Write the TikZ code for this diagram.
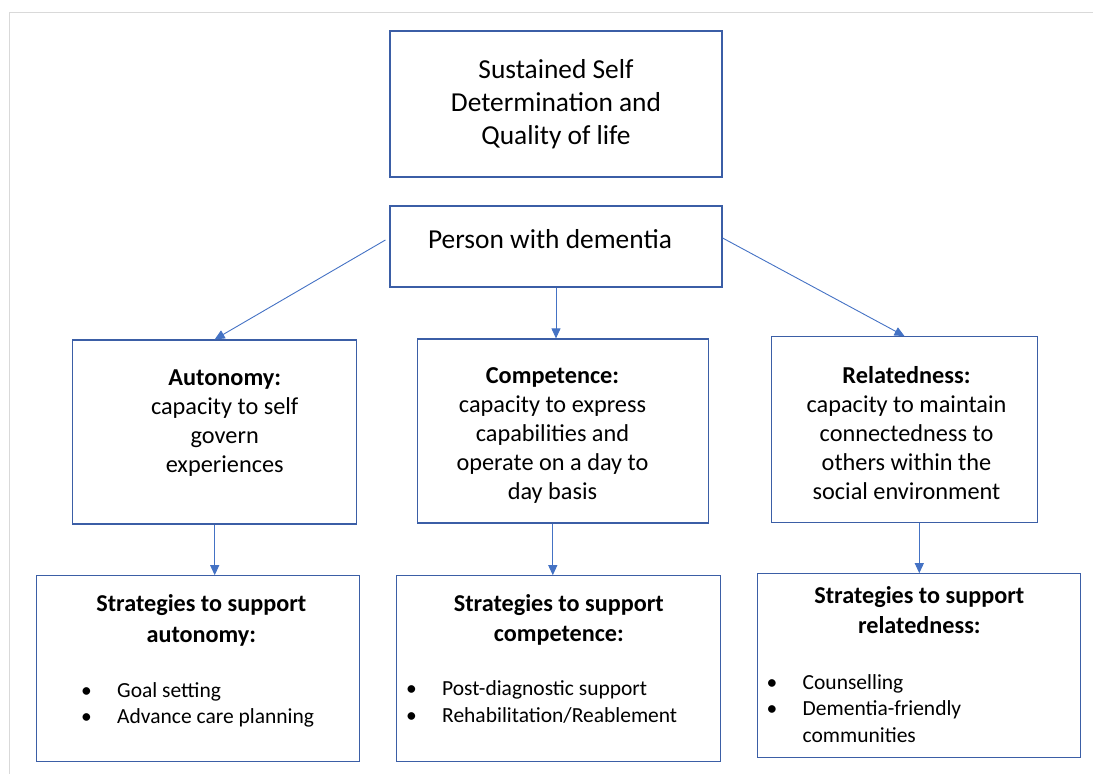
\documentclass[tikz,border=0pt]{standalone}
\usepackage{fontspec}
\setmainfont{Carlito}
\usetikzlibrary{positioning,arrows.meta}
\definecolor{boxblue}{HTML}{3B5EA6}
\definecolor{linkblue}{HTML}{4472C4}
\definecolor{framegray}{HTML}{D9D9D9}

\begin{document}
\begin{tikzpicture}[
    x=1pt, y=-1pt,
    box/.style={draw=boxblue, line width=1.2pt, inner sep=0pt},
    arrow/.style={-{Triangle[length=10pt,width=9pt]}, color=linkblue, line width=0.9pt},
    bigtext/.style={font=\fontsize{27.4}{33}\selectfont, align=center, inner sep=0pt},
    midtext/.style={font=\fontsize{24.3}{29}\selectfont, align=center, inner sep=0pt},
    headtext/.style={font=\fontsize{24.2}{30.5}\selectfont\bfseries, align=center, inner sep=0pt},
    listtext/.style={font=\fontsize{21.5}{26.5}\selectfont, inner sep=0pt},
]
\useasboundingbox (0,0) rectangle (1093,774);
\draw[framegray, line width=1pt] (9.5,774) -- (9.5,12.5) -- (1093,12.5);

% outcome and person
\node[box, bigtext, minimum width=332pt, minimum height=146pt] (goal) at (556,104) {Sustained Self\\Determination and\\Quality of life};
\node[box, minimum width=332pt, minimum height=81pt] (person) at (556,246.5) {};
\node[bigtext] (persontext) at ([xshift=-6pt,yshift=7.5pt]person.center) {Person with dementia};

% the three needs
\node[box, minimum width=284pt, minimum height=184pt] (autonomy) at (214.7,432) {};
\node[box, minimum width=291pt, minimum height=184pt] (competence) at (563,431) {};
\node[box, minimum width=266pt, minimum height=186pt] (relatedness) at (904.5,429.7) {};
\node[midtext, below=30.5pt of autonomy.north, xshift=10pt] (autonomytext) {\textbf{Autonomy:}\\capacity to self\\govern\\experiences};
\node[midtext, below=29.3pt of competence.north, xshift=-10.5pt] (competencetext) {\textbf{Competence:}\\capacity to express\\capabilities and\\operate on a day to\\day basis};
\node[midtext, below=29.8pt of relatedness.north, xshift=2pt] (relatednesstext) {\textbf{Relatedness:}\\capacity to maintain\\connectedness to\\others within the\\social environment};

% strategies
\node[box, minimum width=323pt, minimum height=186pt] (sautonomy) at (198.3,668.8) {};
\node[box, minimum width=324pt, minimum height=186pt] (scompetence) at (558.8,668.8) {};
\node[box, minimum width=323pt, minimum height=184pt] (srelatedness) at (919.3,665.8) {};
\node[headtext, below=19.4pt of sautonomy.north, xshift=3pt] (sautonomyhead) {Strategies to support\\autonomy:};
\node[headtext, below=19pt of scompetence.north] (scompetencehead) {Strategies to support\\competence:};
\node[headtext, below=12.7pt of srelatedness.north] (srelatednesshead) {Strategies to support\\relatedness:};
\node[listtext, below right=103.5pt and 44.8pt of sautonomy.north west] (sautonomylist) {\begin{tabular}{@{}p{36pt}@{}l@{}}\textbullet & Goal setting\\ \textbullet & Advance care planning\end{tabular}};
\node[listtext, below right=102pt and 9.8pt of scompetence.north west] (scompetencelist) {\begin{tabular}{@{}p{36pt}@{}l@{}}\textbullet & Post-diagnostic support\\ \textbullet & Rehabilitation/Reablement\end{tabular}};
\node[listtext, below right=97.5pt and 9.3pt of srelatedness.north west] (srelatednesslist) {\begin{tabular}{@{}p{36pt}@{}l@{}}\textbullet & Counselling\\ \textbullet & Dementia-friendly\\ & communities\end{tabular}};

\draw[arrow] ([xshift=-4pt,yshift=6.5pt]person.west) -- (autonomy.north);
\draw[arrow] (person.south) -- (person.south |- competence.north);
\draw[arrow] ([yshift=8.5pt]person.east) -- (relatedness.north);
\draw[arrow] (autonomy.south) -- (autonomy.south |- sautonomy.north);
\draw[arrow] ([xshift=-6pt]scompetence.north |- competence.south) -- ([xshift=-6pt]scompetence.north);
\draw[arrow] (srelatedness.north |- relatedness.south) -- (srelatedness.north);
\end{tikzpicture}
\end{document}
